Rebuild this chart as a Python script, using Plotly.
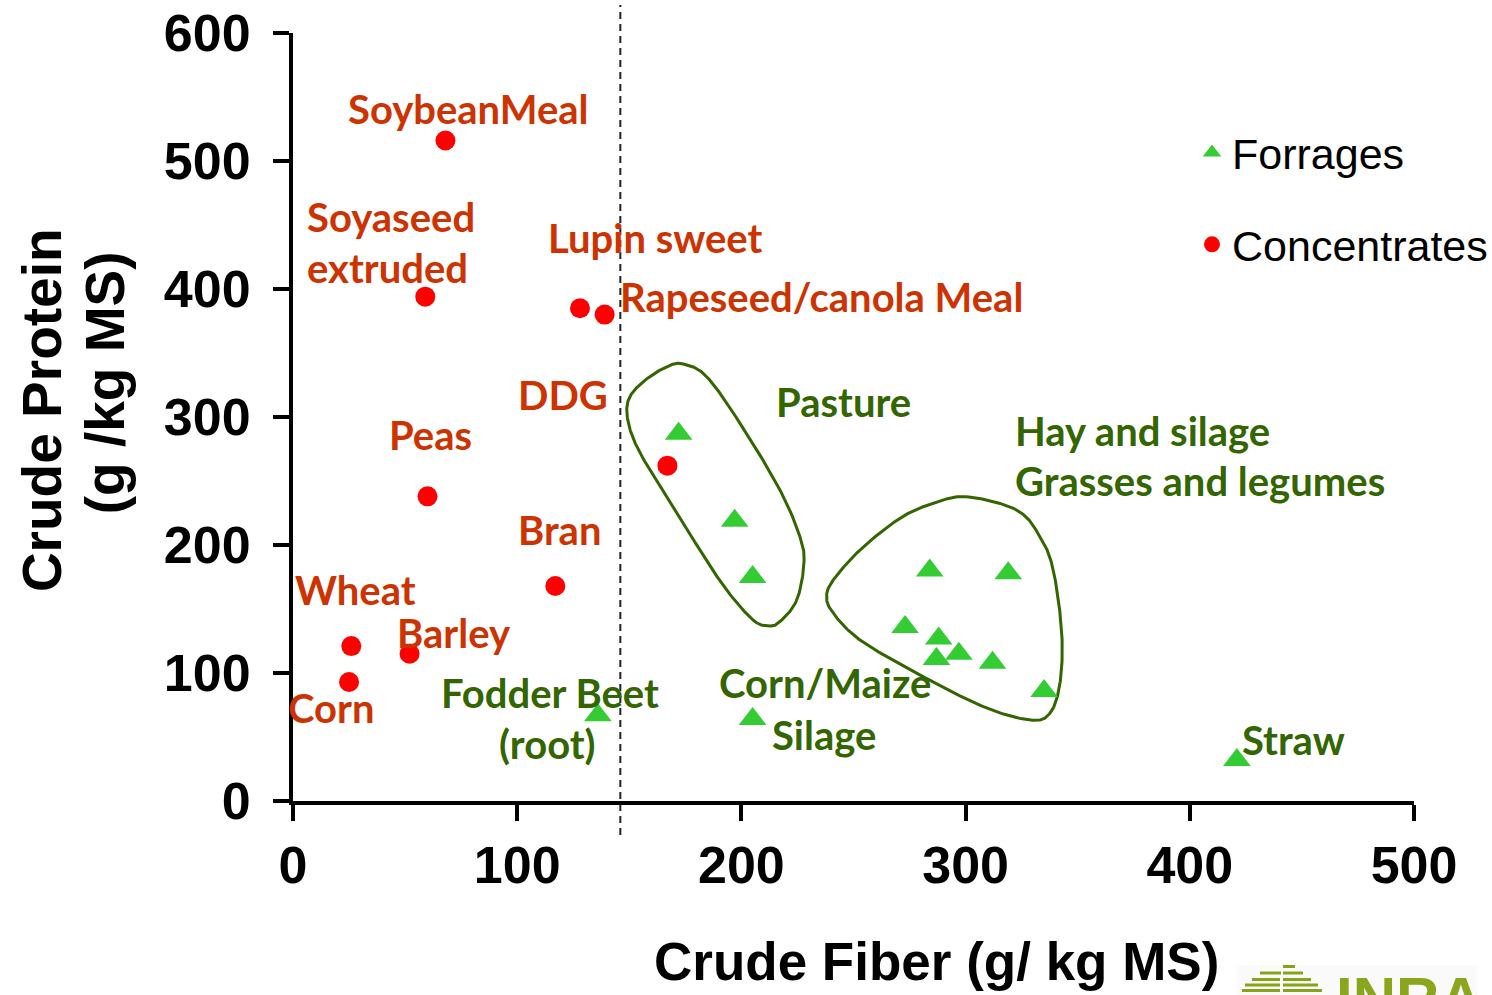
import numpy as np
import plotly.graph_objects as go

# ---- data: crude fiber (x) vs crude protein (y), g/kg MS ----
conc_names = ["SoybeanMeal", "Soyaseed extruded", "Lupin sweet", "Rapeseed/canola Meal",
              "DDG", "Peas", "Bran", "Wheat", "Barley", "Corn"]
conc_fiber = [68, 59, 128, 139, 167, 60, 117, 26, 52, 25]
conc_protein = [516, 394, 385, 380, 262, 238, 168, 121, 115, 93]

forr_names = ["Pasture 1", "Pasture 2", "Pasture 3",
              "Hay 1", "Hay 2", "Hay 3", "Hay 4", "Hay 5", "Hay 6", "Hay 7", "Hay 8",
              "Corn/Maize Silage", "Fodder Beet (root)", "Straw"]
forr_fiber = [172, 197, 205, 284, 319, 273, 288, 287, 297, 312, 335, 205, 136, 421]
forr_protein = [287, 219, 175, 180, 178, 136, 127, 111, 115, 108, 86, 64, 67, 32]

x_ticks = [0, 100, 200, 300, 400, 500]
y_ticks = [0, 100, 200, 300, 400, 500, 600]
fiber_limit = 146  # dashed separation between concentrates and forages

# ---- group outlines (vertices of closed curves, in data units) ----
pasture_x = [205.2, 193.4, 181.5, 166.7, 154.8, 149.6, 149.6, 156.2, 166.7, 174.1,
             184.5, 199.4, 217.2, 226.1, 227.9, 224.7, 217.2, 212.0]
pasture_y = [141.4, 164.8, 196.1, 237.7, 271.9, 295.1, 313.3, 327.6, 339.3, 341.4,
             331.5, 295.1, 243.0, 206.5, 185.7, 157.0, 140.1, 136.7]
hay_x = [300.5, 322.8, 333.2, 339.1, 342.9, 342.1, 337.6, 328.7, 307.9, 278.2,
         252.9, 241.0, 238.0, 241.0, 252.9, 270.7, 285.6]
hay_y = [237.7, 227.3, 206.5, 180.5, 131.0, 92.0, 68.5, 63.3, 73.7, 99.8,
         125.8, 146.6, 159.6, 172.7, 196.1, 220.9, 232.6]

RED_TXT = "#CC3300"
GREEN_TXT = "#336600"
RED_MK = "#FF0000"
GREEN_MK = "#33CC33"
LABEL_FONT = "Lato, Carlito, Calibri, sans-serif"
AX_FONT = "Liberation Sans, Arial, sans-serif"

# text labels: (text, x, y, colour)
labels = [
    ("SoybeanMeal", 25, 541, RED_TXT),
    ("Soyaseed", 6.7, 456.5, RED_TXT),
    ("extruded", 6.7, 416.6, RED_TXT),
    ("Lupin sweet", 114.2, 439.5, RED_TXT),
    ("Rapeseed/canola Meal", 146.3, 394, RED_TXT),
    ("DDG", 100.8, 317, RED_TXT),
    ("Peas", 43.3, 286, RED_TXT),
    ("Bran", 100.8, 212, RED_TXT),
    ("Wheat", 1.3, 164.5, RED_TXT),
    ("Barley", 46.8, 131.5, RED_TXT),
    ("Corn", 0, 73, RED_TXT),
    ("Fodder Beet", 66.5, 84.5, GREEN_TXT),
    ("(root)", 92.3, 44.5, GREEN_TXT),
    ("Corn/Maize", 190.5, 92.5, GREEN_TXT),
    ("Silage", 214, 51.5, GREEN_TXT),
    ("Pasture", 215.9, 312, GREEN_TXT),
    ("Hay and silage", 322.5, 289, GREEN_TXT),
    ("Grasses and legumes", 322.5, 250, GREEN_TXT),
    ("Straw", 423.7, 48, GREEN_TXT),
]


def closed_curve(xs, ys, steps=24):
    """Closed Catmull-Rom curve through the given vertices."""
    pts = np.column_stack([xs, ys]).astype(float)
    n = len(pts)
    out = []
    for i in range(n):
        p0, p1, p2, p3 = pts[(i - 1) % n], pts[i], pts[(i + 1) % n], pts[(i + 2) % n]
        for t in np.linspace(0, 1, steps, endpoint=False):
            t2, t3 = t * t, t * t * t
            out.append(0.5 * ((2 * p1) + (-p0 + p2) * t
                              + (2 * p0 - 5 * p1 + 4 * p2 - p3) * t2
                              + (-p0 + 3 * p1 - 3 * p2 + p3) * t3))
    out.append(out[0])
    out = np.array(out)
    return out[:, 0], out[:, 1]


fig = go.Figure()

for vx, vy in [(pasture_x, pasture_y), (hay_x, hay_y)]:
    cx, cy = closed_curve(vx, vy)
    fig.add_trace(go.Scatter(x=cx, y=cy, mode="lines", showlegend=False, hoverinfo="skip",
                             line=dict(color=GREEN_TXT, width=3)))

fig.add_trace(go.Scatter(
    x=forr_fiber, y=forr_protein, mode="markers", name="Forrages", text=forr_names,
    legendgroup="f",
    marker=dict(symbol="triangle-up", size=24, color=GREEN_MK, line=dict(width=0)),
))
fig.add_trace(go.Scatter(
    x=conc_fiber, y=conc_protein, mode="markers", name="Concentrates", text=conc_names,
    legendgroup="c",
    marker=dict(symbol="circle", size=20, color=RED_MK, line=dict(width=0)),
))

annotations = []
for txt, lx, ly, col in labels:
    annotations.append(dict(x=lx, y=ly, xref="x", yref="y", text=txt, showarrow=False,
                            xanchor="left", yanchor="middle",
                            xshift=-7 if lx == 0 else -3,
                            font=dict(family=LABEL_FONT, size=40, color=col, weight="bold")))

# axis titles
annotations.append(dict(x=0.5736, y=-0.2096, xref="paper", yref="paper",
                        text="Crude Fiber (g/ kg MS)", showarrow=False,
                        xanchor="center", yanchor="middle",
                        font=dict(family=AX_FONT, size=53, color="black", weight="bold")))
annotations.append(dict(x=-0.2239, y=0.509, xref="paper", yref="paper",
                        text="Crude Protein", showarrow=False, textangle=-90,
                        xanchor="center", yanchor="middle",
                        font=dict(family=AX_FONT, size=55, color="black", weight="bold")))
annotations.append(dict(x=-0.1677, y=0.544, xref="paper", yref="paper",
                        text="(g /kg MS)", showarrow=False, textangle=-90,
                        xanchor="center", yanchor="middle",
                        font=dict(family=AX_FONT, size=55, color="black", weight="bold")))

W, H = 1492, 995
L, R, T, B = 293, 78, 33, 194
pw, ph = W - L - R, H - T - B


def px_x(p):
    return (p - L) / pw


def px_y(p):
    return (H - B - p) / ph


# institute logo in the lower right corner (runs off the bottom edge)
annotations.append(dict(x=px_x(1334), y=px_y(963), xref="paper", yref="paper", text="INRA",
                        showarrow=False, xanchor="left", yanchor="top",
                        font=dict(family=AX_FONT, size=60, color="#8AA61C", weight="bold")))

shapes = [
    dict(type="line", xref="x", yref="paper", x0=fiber_limit, x1=fiber_limit,
         y0=px_y(835), y1=px_y(5), line=dict(color="#222222", width=2, dash="7px,5px"), layer="below"),
    dict(type="rect", xref="paper", yref="paper", x0=px_x(1237), x1=px_x(1477),
         y0=px_y(1000), y1=px_y(965), fillcolor="#FAFAFA", line=dict(width=0), layer="below"),
]
# stripes of the logo emblem
stripes = [(966.5, 1283, 1295), (973, 1260, 1281), (973, 1283, 1303),
           (979.5, 1252, 1280), (979.5, 1283, 1311), (985, 1245, 1280), (985, 1283, 1318),
           (990.5, 1242, 1280), (990.5, 1283, 1322)]
for sy, sx0, sx1 in stripes:
    shapes.append(dict(type="rect", xref="paper", yref="paper", x0=px_x(sx0), x1=px_x(sx1),
                       y0=px_y(sy + 1.5), y1=px_y(sy - 1.5), fillcolor="#86A41A",
                       line=dict(width=0)))

axis_common = dict(showline=True, linewidth=4, linecolor="black", ticks="outside",
                   ticklen=16, tickwidth=4, tickcolor="black", showgrid=False, zeroline=False,
                   tickfont=dict(family=AX_FONT, size=52, color="black", weight="bold"),
                   fixedrange=True, automargin=False)

fig.update_layout(
    width=W, height=H,
    margin=dict(l=L, r=R, t=T, b=B, autoexpand=False),
    paper_bgcolor="white", plot_bgcolor="white",
    xaxis=dict(range=[0, 500], tickvals=x_ticks, ticklabelstandoff=0, **axis_common),
    yaxis=dict(range=[0, 600], tickvals=y_ticks, ticklabelstandoff=12, **axis_common),
    legend=dict(x=px_x(1192), y=px_y(118), xanchor="left", yanchor="top",
                font=dict(family=AX_FONT, size=43, color="black"),
                itemwidth=30, tracegroupgap=33, bgcolor="rgba(0,0,0,0)"),
    annotations=annotations,
    shapes=shapes,
    showlegend=True,
)

fig.write_html("out.html")
